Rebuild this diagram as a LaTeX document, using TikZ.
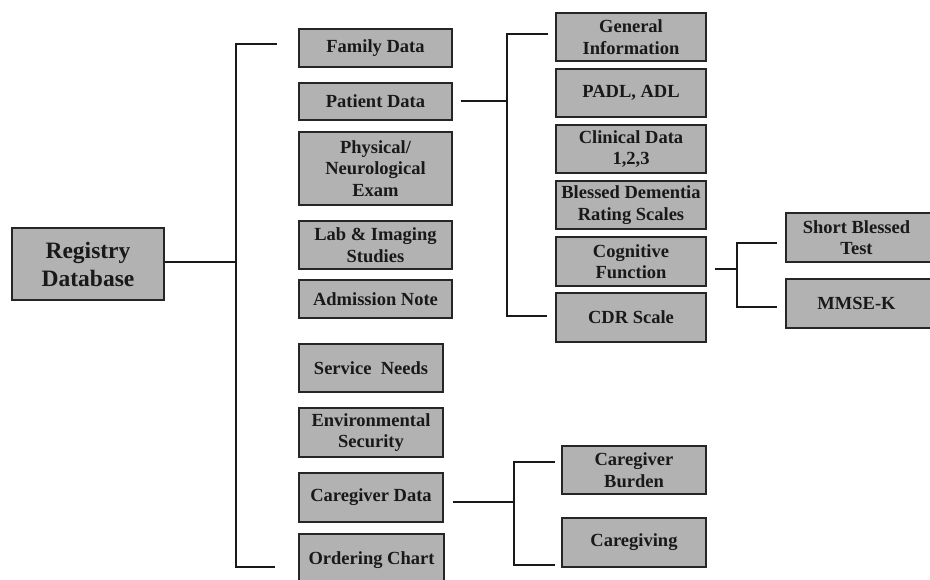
\documentclass[tikz,border=0pt]{standalone}
\usepackage{fontspec}
\setmainfont{Liberation Serif}
\begin{document}
\begin{tikzpicture}[x=1pt,y=-1pt,
  bx/.style={draw=black!85, line width=1.1pt, fill=black!30, align=center,
    inner sep=0pt, font=\bfseries\fontsize{18.5}{21.5}\selectfont, text=black!90},
  ln/.style={line width=1.3pt, black!90}]
\useasboundingbox (0,0) rectangle (930,579);
% boxes
\node[bx, minimum width=152, minimum height=72, font=\bfseries\fontsize{23.5}{28}\selectfont] (reg) at (88,264) {Registry\\Database};
\node[bx, minimum width=153, minimum height=38] (fam) at (375.5,48) {Family Data};
\node[bx, minimum width=153, minimum height=37] (pat) at (375.5,101.5) {Patient Data};
\node[bx, minimum width=153, minimum height=73] (phy) at (375.5,168.5) {Physical/\\Neurological\\Exam};
\node[bx, minimum width=153, minimum height=48] (lab) at (375.5,245) {Lab \& Imaging\\Studies};
\node[bx, minimum width=153, minimum height=38] (adm) at (375.5,299) {Admission Note};
\node[bx, minimum width=144, minimum height=48] (svc) at (371,368) {Service\ \ Needs};
\node[bx, minimum width=144, minimum height=49] (env) at (371,432.5) {Environmental\\Security};
\node[bx, minimum width=144, minimum height=49] (cgd) at (371,497.5) {Caregiver Data};
\node[bx, minimum width=145, minimum height=56, text depth=0pt] (ord) at (371.5,562) {\raisebox{8pt}{Ordering Chart}};
\node[bx, minimum width=150, minimum height=48] (gen) at (631,37) {General\\Information};
\node[bx, minimum width=150, minimum height=48] (padl) at (631,93) {PADL, ADL};
\node[bx, minimum width=150, minimum height=48] (cli) at (631,149) {Clinical Data\\1,2,3};
\node[bx, minimum width=150, minimum height=48] (bls) at (631,205) {Blessed Dementia\\Rating Scales};
\node[bx, minimum width=150, minimum height=49] (cog) at (631,261.5) {Cognitive\\Function};
\node[bx, minimum width=150, minimum height=49] (cdr) at (631,317.5) {CDR Scale};
\node[bx, minimum width=149, minimum height=49] (sbt) at (860.5,237.5) {\hspace*{-8pt}Short Blessed\\\hspace*{-8pt}Test};
\node[bx, minimum width=149, minimum height=49] (mmse) at (860.5,303.5) {\hspace*{-8pt}MMSE-K};
\node[bx, minimum width=144, minimum height=48] (cgb) at (634,470) {Caregiver\\Burden};
\node[bx, minimum width=144, minimum height=49] (cgv) at (634,542.5) {Caregiving};
% connectors: main tree
\coordinate (m0) at (236,262);
\coordinate (mt) at (277,44);
\coordinate (mb) at (275,567);
\draw[ln] (reg.east |- m0) -- (m0);
\draw[ln] (mt) -- (mt -| m0) -- (mb -| m0) -- (mb);
% patient data tree
\coordinate (p0) at (507,101);
\coordinate (pt) at (548,34);
\coordinate (pb) at (547,316);
\draw[ln] ([xshift=8pt]pat.east |- p0) -- (p0);
\draw[ln] (pt) -- (pt -| p0) -- (pb -| p0) -- (pb);
% cognitive function tree
\coordinate (c0) at (737,269);
\coordinate (ct) at (777,243);
\coordinate (cb) at (777,307);
\draw[ln] ([xshift=8pt]cog.east |- c0) -- (c0);
\draw[ln] (ct) -- (ct -| c0) -- (cb -| c0) -- (cb);
% caregiver tree
\coordinate (g0) at (514,502);
\coordinate (gt) at (555,462);
\coordinate (gb) at (555,565);
\draw[ln] ([xshift=9pt]cgd.east |- g0) -- (g0);
\draw[ln] (gt) -- (gt -| g0) -- (gb -| g0) -- (gb);
\end{tikzpicture}
\end{document}
